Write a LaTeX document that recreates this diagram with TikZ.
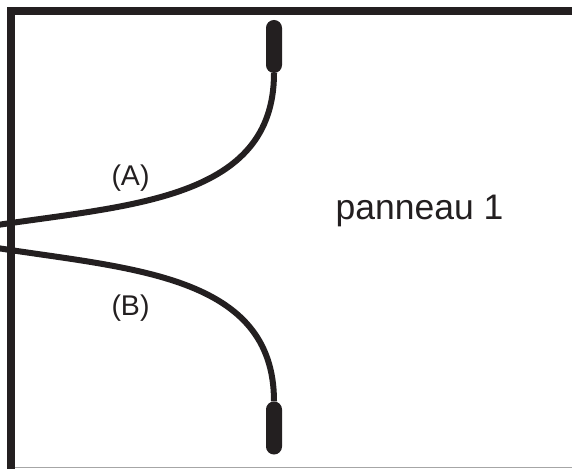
\documentclass[tikz,border=0pt]{standalone}
\usepackage{fontspec}
\setmainfont{Liberation Sans}
\definecolor{ink}{HTML}{231F20}
\begin{document}
\begin{tikzpicture}[x=1pt,y=-1pt,
  frame/.style={draw=ink,line width=8pt,line join=miter},
  wire/.style={draw=ink,line width=6pt},
  capsule/.style={fill=ink,draw=none,rounded corners=7.9pt,minimum width=16pt,minimum height=53pt,inner sep=0pt},
  lbl/.style={font=\fontsize{28.5}{32}\selectfont,text=ink,anchor=base,inner sep=0pt},
  big/.style={font=\fontsize{35.5}{40}\selectfont,text=ink,anchor=base,inner sep=0pt}]
\useasboundingbox (0,0) rectangle (572,468);
\begin{scope}
\clip (0,0) rectangle (572,468);
\draw[frame] (11,490) -- (11,10.7) -- (600,10.7);
\draw[gray!70,line width=1.2pt] (15,467.2) -- (600,467.2);
\node[capsule] (c1) at (274,46.5) {};
\node[capsule] (c2) at (274,428) {};
\coordinate (la) at (-6,225.5);
\coordinate (lb) at (-6,247.5);
\draw[wire] (c1.south) .. controls (274,200) and (130,205) .. (la);
\draw[wire] (c2.north) .. controls (274,274) and (130,269) .. (lb);
\end{scope}
\node[lbl] (A) at (130.5,185) {(A)};
\node[lbl] (B) at (130.5,315) {(B)};
\node[big] (p) at (419.5,219.5) {panneau 1};
\end{tikzpicture}
\end{document}
